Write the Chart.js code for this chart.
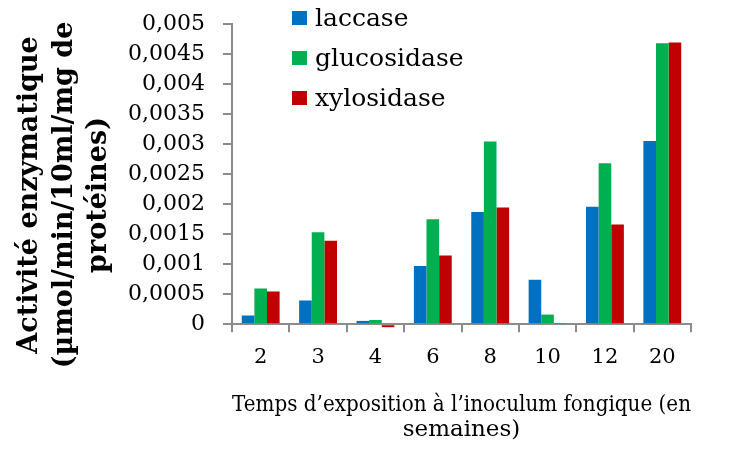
<!DOCTYPE html>
<html>
<head>
<meta charset="utf-8">
<script src="https://cdn.jsdelivr.net/npm/chart.js@4.4.1/dist/chart.umd.min.js"></script>
<style>
  html, body { margin: 0; padding: 0; background: #fff; }
  #wrap { width: 736px; height: 449px; }
</style>
</head>
<body>
<div id="wrap"><canvas id="myChart"></canvas></div>
<script>
// semaines d'exposition
const weeks = ['2', '3', '4', '6', '8', '10', '12', '20'];
const laccase = [0.000145, 0.000395, 0.000055, 0.00097, 0.00187, 0.00074, 0.001955, 0.00305];
const glucosidase = [0.000595, 0.00153, 0.00007, 0.00175, 0.003045, 0.00016, 0.00268, 0.00468];
const xylosidase = [0.000545, 0.00139, -0.00005, 0.001145, 0.001945, 0.00002, 0.00166, 0.00469];
const yTitle = ['Activité enzymatique', '(µmol/min/10ml/mg de', 'protéines)'];
const xTitle = ['Temps d\u2019exposition à l\u2019inoculum fongique (en', 'semaines)'];

const serif = 'DejaVu Serif';
const axisGrey = '#8c8c8c';

// legende verticale dans la zone du graphique
const sideLegend = {
    id: 'sideLegend',
    afterDraw: function(chart) {
        const c = chart.ctx;
        const x = 292, y0 = 18, gap = 40;
        c.save();
        c.font = '25px "' + serif + '"';
        c.textBaseline = 'middle';
        chart.data.datasets.forEach(function(ds, i) {
            const y = y0 + i * gap;
            c.fillStyle = ds.backgroundColor;
            c.fillRect(x, y - 7, 15, 14);
            c.fillStyle = '#000';
            c.fillText(ds.label, x + 23, y + 1);
        });
        c.restore();
    }
};

// titre de l'axe y, sur 3 lignes, un peu plus bas que le centre
const yAxisTitle = {
    id: 'yAxisTitle',
    afterDraw: function(chart) {
        const c = chart.ctx;
        const cy = 195;
        const baselines = [37, 72, 106];
        c.save();
        c.font = 'bold 27px "' + serif + '"';
        c.fillStyle = '#000';
        c.textAlign = 'center';
        c.textBaseline = 'alphabetic';
        yTitle.forEach(function(line, i) {
            c.save();
            c.translate(baselines[i], cy);
            c.rotate(-Math.PI / 2);
            c.fillText(line, 0, 0);
            c.restore();
        });
        c.restore();
    }
};

new Chart(document.getElementById('myChart'), {
    type: 'bar',
    data: {
        labels: weeks,
        datasets: [
            { label: 'laccase', data: laccase, backgroundColor: '#0070C0' },
            { label: 'glucosidase', data: glucosidase, backgroundColor: '#00B050' },
            { label: 'xylosidase', data: xylosidase, backgroundColor: '#C00000' }
        ]
    },
    options: {
        responsive: true,
        maintainAspectRatio: false,
        animation: false,
        clip: false,
        layout: { padding: { top: 24, right: 45, left: 8, bottom: 4 } },
        datasets: {
            bar: {
                categoryPercentage: 0.66,
                barPercentage: 1,
                borderWidth: 0
            }
        },
        plugins: {
            legend: { display: false },
            tooltip: { enabled: false }
        },
        scales: {
            x: {
                grid: { drawOnChartArea: false, color: axisGrey, tickLength: 8, lineWidth: 2 },
                border: { color: axisGrey, width: 2 },
                ticks: { color: '#000', font: { family: serif, size: 21 }, padding: 13 },
                title: {
                    display: true,
                    text: xTitle,
                    color: '#000',
                    font: { family: serif, size: 23, lineHeight: 1.1 },
                    padding: { top: 9, bottom: 2 }
                }
            },
            y: {
                min: 0,
                max: 0.005,
                afterFit: function(scale) {
                    scale.width = 224;
                    scale.paddingTop = 12;
                    scale.paddingBottom = 12;
                },
                grid: { drawOnChartArea: false, color: axisGrey, tickLength: 9, lineWidth: 2 },
                border: { color: axisGrey, width: 2 },
                ticks: {
                    stepSize: 0.0005,
                    autoSkip: false,
                    color: '#000',
                    font: { family: serif, size: 22 },
                    padding: 18,
                    callback: function(v) {
                        return String(Math.round(v * 10000) / 10000).replace('.', ',');
                    }
                }
            }
        }
    },
    plugins: [sideLegend, yAxisTitle]
});
</script>
</body>
</html>
